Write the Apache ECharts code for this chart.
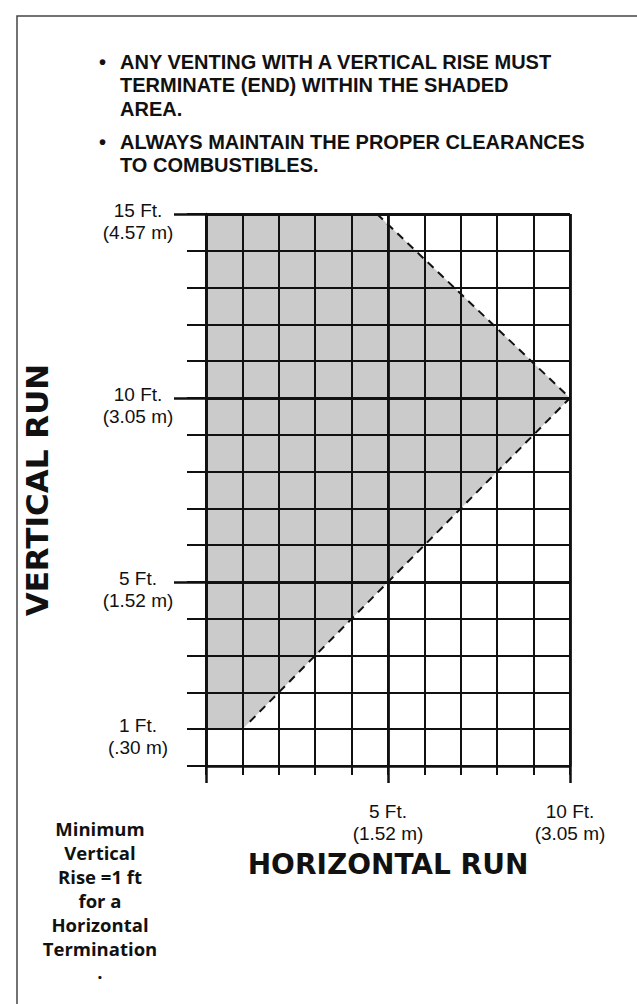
<!DOCTYPE html>
<html><head><meta charset="utf-8">
<script src="https://cdn.jsdelivr.net/npm/echarts@6/dist/echarts.min.js"></script>
<style>html,body{margin:0;padding:0;background:#fff}#c{width:637px;height:1004px}</style>
</head><body><div id="c"></div>
<script>
// ---- data ----
const yLabelValues = [1, 5, 10, 15];
const yLabelFt = ['1 Ft.', '5 Ft.', '10 Ft.', '15 Ft.'];
const yLabelM = ['(.30 m)', '(1.52 m)', '(3.05 m)', '(4.57 m)'];
const yMajorTicks = [5, 10, 15];
const xLabelValues = [5, 10];
const xLabelFt = ['5 Ft.', '10 Ft.'];
const xLabelM = ['(1.52 m)', '(3.05 m)'];
const shadeX = [0, 4.7, 10, 1, 0];
const shadeY = [15, 15, 10, 1, 1];
const limitX = [4.7, 10, 1.2];
const limitY = [15, 10, 1.2];
const bulletLines = [
  ['ANY VENTING WITH A VERTICAL RISE MUST', 'TERMINATE (END) WITHIN THE SHADED', 'AREA.'],
  ['ALWAYS MAINTAIN THE PROPER CLEARANCES', 'TO COMBUSTIBLES.']
];
const noteLines = ['Minimum', 'Vertical', 'Rise =1 ft', 'for a', 'Horizontal', 'Termination'];
const noteEnd = '.';
const xTitle = 'HORIZONTAL RUN';
const yTitle = 'VERTICAL RUN';

// ---- chart ----
const INK = '#111';
const tickFont = 'Liberation Sans';
const bulletFont = '"Liberation Sans"';
const boldFont = '"Open Sans"';
const chart = echarts.init(document.getElementById('c'), null, {renderer: 'svg'});

const graphics = [];
graphics.push({type: 'rect', shape: {x: 17, y: 16, width: 700, height: 1100},
  style: {fill: 'none', stroke: '#444', lineWidth: 1.5}, silent: true});
let y0 = 50;
bulletLines.forEach((lines) => {
  graphics.push({type: 'text', x: 99, y: y0, style: {text: '•', font: 'bold 20px ' + bulletFont, fill: INK, lineHeight: 23.5}});
  graphics.push({type: 'text', x: 120, y: y0,
    style: {text: lines.join('\n'), font: 'bold 20px ' + bulletFont, lineHeight: 23.5, fill: INK}});
  y0 += lines.length * 23.5 + 9.5;
});
graphics.push({type: 'text', x: 100, y: 816,
  style: {text: noteLines.join('\n'), font: 'bold 18.5px ' + boldFont, lineHeight: 24, fill: INK, align: 'center'}});
graphics.push({type: 'text', x: 100, y: 962,
  style: {text: noteEnd, font: 'bold 18.5px ' + boldFont, fill: INK, align: 'center'}});

const labelRich = {a: {fontSize: 19, lineHeight: 22, fontFamily: tickFont, color: INK, align: 'center'}};

chart.setOption({
  animation: false,
  grid: {left: 206, top: 214, width: 364, height: 552},
  graphic: graphics,
  xAxis: [{
    type: 'value', min: 0, max: 10, interval: 1, position: 'bottom',
    axisLine: {show: true, lineStyle: {color: INK, width: 2.5}},
    axisTick: {show: true, length: 9, lineStyle: {color: INK, width: 2}},
    splitLine: {show: true, lineStyle: {color: INK, width: 2}},
    axisLabel: {customValues: xLabelValues, margin: 34, rich: labelRich,
      formatter: v => { const i = xLabelValues.indexOf(v); return i < 0 ? '' : '{a|' + xLabelFt[i] + '}\n{a|' + xLabelM[i] + '}'; }},
    name: xTitle, nameLocation: 'middle', nameGap: 84,
    nameTextStyle: {fontFamily: 'DejaVu Sans', fontWeight: 'bold', fontSize: 28, color: INK}
  }, {
    type: 'value', min: 0, max: 10, interval: 5, position: 'bottom',
    axisLine: {show: false},
    axisTick: {show: true, length: 17, lineStyle: {color: INK, width: 2.5}},
    splitLine: {show: true, lineStyle: {color: INK, width: 2.8}},
    axisLabel: {show: false}
  }],
  yAxis: [{
    type: 'value', min: 0, max: 15, interval: 1, position: 'left',
    axisLine: {show: true, lineStyle: {color: INK, width: 2.5}},
    axisTick: {show: true, length: 19, lineStyle: {color: INK, width: 2}},
    splitLine: {show: true, lineStyle: {color: INK, width: 2}},
    axisLabel: {customValues: yLabelValues, margin: 68, align: 'center', padding: [15, 0, 0, 0], rich: labelRich,
      formatter: v => { const i = yLabelValues.indexOf(v); return i < 0 ? '' : '{a|' + yLabelFt[i] + '}\n{a|' + yLabelM[i] + '}'; }},
    name: yTitle, nameLocation: 'middle', nameGap: 154, nameRotate: 90,
    nameTextStyle: {fontFamily: 'DejaVu Sans', fontWeight: 'bold', fontSize: 31, color: INK}
  }, {
    type: 'value', min: 0, max: 15, interval: 5, position: 'left',
    axisLine: {show: false},
    axisTick: {show: true, customValues: yMajorTicks, length: 32, lineStyle: {color: INK, width: 2.5}},
    splitLine: {show: true, lineStyle: {color: INK, width: 2.8}},
    axisLabel: {show: false}
  }],
  series: [{
    type: 'custom', z: -1, silent: true,
    data: [[0, 0]],
    renderItem: (params, api) => ({
      type: 'polygon',
      shape: {points: shadeX.map((x, i) => api.coord([x, shadeY[i]]))},
      style: {fill: '#cbcbcb'}
    })
  }, {
    type: 'line', symbol: 'none', silent: true, z: 5,
    data: limitX.map((x, i) => [x, limitY[i]]),
    lineStyle: {color: INK, width: 2, type: [8, 6]}
  }]
});
</script>
</body></html>
